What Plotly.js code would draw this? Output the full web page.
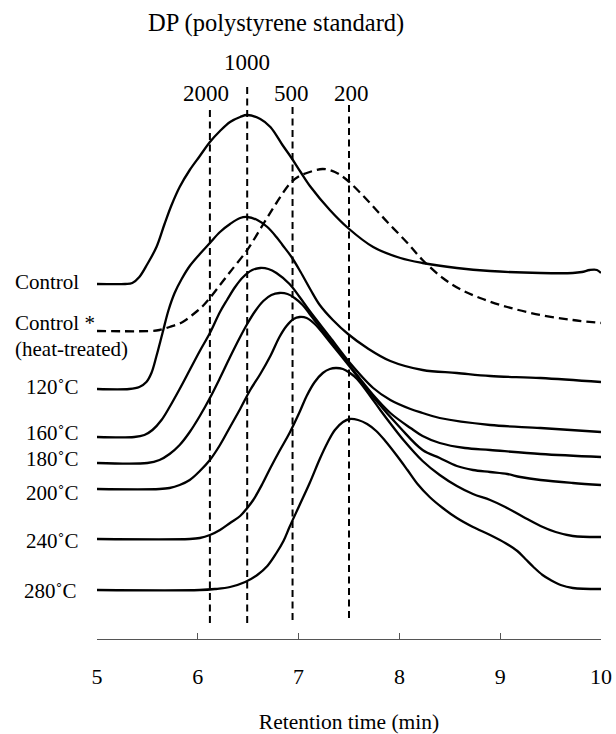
<!DOCTYPE html>
<html>
<head>
<meta charset="utf-8">
<script src="https://cdn.plot.ly/plotly-3.0.1.min.js"></script>
<style>html,body{margin:0;padding:0;background:#fff;}#chart{width:616px;height:734px;}</style>
</head>
<body>
<div id="chart"></div>
<script>
// Retention time (min) and detector response (arbitrary units, stacked traces)
const controlX = [5.00,5.28,5.35,5.42,5.50,5.59,5.67,5.74,5.82,5.92,6.02,6.12,6.22,6.32,6.42,6.49,6.62,6.72,6.84,6.93,7.02,7.12,7.31,7.49,7.74,8.01,8.23,8.57,8.90,9.40,9.72,9.81,9.89,9.96,10.0];
const controlY = [355,355,356,362,375,392,415,434,452,469,483,497,508,517,522,524,520,512,494,481,467,452,429,411,392,381,376,371,368,366,366,367,369,369,366];

const heatX = [5.00,5.53,5.62,5.72,5.85,5.97,6.05,6.12,6.22,6.32,6.49,6.65,6.78,6.92,7.01,7.11,7.24,7.36,7.48,7.68,7.88,8.08,8.23,8.43,8.60,8.80,9.07,9.40,9.72,10.0];
const heatY = [308,308,309,312,317,326,333,341,354,367,389,415,436,456,463,467,470,467,459,439,417,396,379,361,350,341,332,324,319,316];

const t120X = [5.00,5.32,5.42,5.49,5.54,5.59,5.65,5.71,5.77,5.84,5.92,6.02,6.12,6.22,6.32,6.42,6.49,6.59,6.69,6.78,6.84,6.93,7.02,7.12,7.21,7.34,7.49,7.68,7.91,8.23,8.57,8.90,9.40,10.0];
const t120Y = [250,250,252,257,266,283,306,329,346,360,373,385,396,407,415,421,422,419,412,402,394,382,367,349,334,319,305,291,278,269,266,263,261,257];

const t160X = [5.00,5.37,5.47,5.55,5.64,5.72,5.82,5.92,6.02,6.12,6.22,6.29,6.37,6.45,6.54,6.62,6.70,6.78,6.91,7.01,7.11,7.31,7.51,7.74,7.91,8.11,8.23,8.40,8.90,9.40,10.0];
const t160Y = [202,202,204,209,219,232,250,269,288,306,327,339,352,362,369,371,370,366,355,342,328,302,276,251,239,230,226,221,214,211,207];

const t180X = [5.00,5.50,5.62,5.72,5.82,5.92,6.02,6.12,6.22,6.32,6.42,6.49,6.57,6.65,6.73,6.81,6.89,6.96,7.04,7.11,7.31,7.51,7.74,7.91,8.11,8.23,8.40,8.65,8.90,9.40,10.0];
const t180Y = [176,176,179,185,194,207,223,241,261,282,302,315,328,338,344,346,345,341,334,325,299,273,244,226,211,203,196,191,189,185,182];

const t200X = [5.00,5.62,5.72,5.82,5.92,6.02,6.12,6.22,6.32,6.42,6.52,6.62,6.72,6.81,6.88,6.95,7.01,7.08,7.16,7.31,7.51,7.74,8.01,8.23,8.40,8.57,8.73,8.90,9.07,9.20,9.40,9.72,10.0];
const t200Y = [150,150,151,154,159,168,179,194,212,230,249,265,283,302,313,320,322,321,315,297,272,242,211,189,181,173,169,167,165,162,159,156,154];

const t240X = [5.00,5.92,6.02,6.12,6.22,6.32,6.42,6.49,6.55,6.64,6.72,6.81,6.91,7.01,7.08,7.16,7.24,7.31,7.37,7.44,7.51,7.58,7.71,7.81,7.93,8.04,8.23,8.40,8.57,8.73,8.90,9.05,9.23,9.40,9.55,9.72,10.0];
const t240Y = [100,100,101,104,109,116,123,131,139,155,171,188,206,227,243,257,266,270,271,270,266,260,243,229,213,199,178,164,153,145,139,132,122,113,107,103,102];

const t280X = [5.00,6.02,6.17,6.32,6.47,6.59,6.69,6.78,6.85,6.91,7.01,7.11,7.21,7.29,7.36,7.44,7.51,7.59,7.68,7.77,7.86,7.97,8.08,8.18,8.30,8.43,8.57,8.73,8.90,9.05,9.17,9.25,9.33,9.42,9.50,9.60,9.72,10.0];
const t280Y = [49,49,50,52,57,64,73,86,98,112,134,156,180,197,209,217,220,219,215,208,198,184,169,155,142,131,121,112,104,96,88,80,72,64,59,54,51,50];

// Polystyrene standards (DP) and their retention times
const dpLabels = ['2000','1000','500','200'];
const dpTimes = [6.12,6.49,6.94,7.50];

// Sample labels
const sampleLabels = ['Control','Control *','(heat-treated)','120˚C','160˚C','180˚C','200˚C','240˚C','280˚C'];
const xTickVals = [5,6,7,8,9,10];
const xTickText = ['5','6','7','8','9','10'];

// ---- drawing ----
const FONT = '"Liberation Serif", Tinos, "Times New Roman", Times, serif';
const lineStyle = {color:'#000', width:2.3, shape:'spline', smoothing:1.0};
const series = [
  [controlX, controlY, 'solid'],
  [heatX, heatY, '9px,5px'],
  [t120X, t120Y, 'solid'],
  [t160X, t160Y, 'solid'],
  [t180X, t180Y, 'solid'],
  [t200X, t200Y, 'solid'],
  [t240X, t240Y, 'solid'],
  [t280X, t280Y, 'solid']
];
const traces = [];
// vertical standard reference lines (extent in response units)
const dpTop = [532,556,532,534];
const dpBottom = [16,16,19,21];
dpTimes.forEach((t,i)=>{
  traces.push({x:[t,t], y:[dpBottom[i], dpTop[i]], mode:'lines', hoverinfo:'skip',
    line:{color:'#000', width:2, dash:'7px,4.5px'}});
});
series.forEach(s=>{
  traces.push({x:s[0], y:s[1], mode:'lines', hoverinfo:'skip',
    line:Object.assign({}, lineStyle, {dash:s[2]})});
});

const W = 504; // plot width px
const labelPos = [
  [13,357],[13,316],[13,290],[24,252],[24,206],[24,180],[24,146],[24,98],[22,48]
];
const annotations = [];
sampleLabels.forEach((t,i)=>{
  annotations.push({text:t, xref:'paper', yref:'y', x:(labelPos[i][0]-97)/W, y:labelPos[i][1],
    xanchor:'left', yanchor:'middle', showarrow:false, font:{family:FONT, size:21, color:'#000'}});
});
const dpLabelShift = [-4,0,-1,2];
const dpLabelY = [546,577,546,546];
dpLabels.forEach((t,i)=>{
  annotations.push({text:t, xref:'x', yref:'y', x:dpTimes[i], y:dpLabelY[i], xshift:dpLabelShift[i],
    xanchor:'center', yanchor:'middle', showarrow:false, font:{family:FONT, size:23, color:'#000'}});
});
annotations.push({text:'DP (polystyrene standard)', xref:'x', yref:'y', x:6.78, y:616,
  xanchor:'center', yanchor:'middle', showarrow:false, font:{family:FONT, size:24.5, color:'#000'}});

const layout = {
  width:616, height:734,
  margin:{l:97, r:15, t:0, b:95},
  paper_bgcolor:'#fff', plot_bgcolor:'#fff',
  showlegend:false,
  font:{family:FONT, size:21, color:'#000'},
  xaxis:{range:[5,10], tickvals:xTickVals, ticktext:xTickText, showgrid:false, zeroline:false,
    showline:true, linecolor:'#555', linewidth:1, ticks:'inside', ticklen:6, tickcolor:'#555', tickwidth:1,
    ticklabelstandoff:18, tickfont:{family:FONT, size:22, color:'#000'},
    title:{text:'Retention time (min)', font:{family:FONT, size:21.5, color:'#000'}, standoff:35},
    fixedrange:true},
  yaxis:{range:[0,639], visible:false, fixedrange:true},
  annotations:annotations
};
Plotly.newPlot('chart', traces, layout, {staticPlot:true, displayModeBar:false});
</script>
</body>
</html>
